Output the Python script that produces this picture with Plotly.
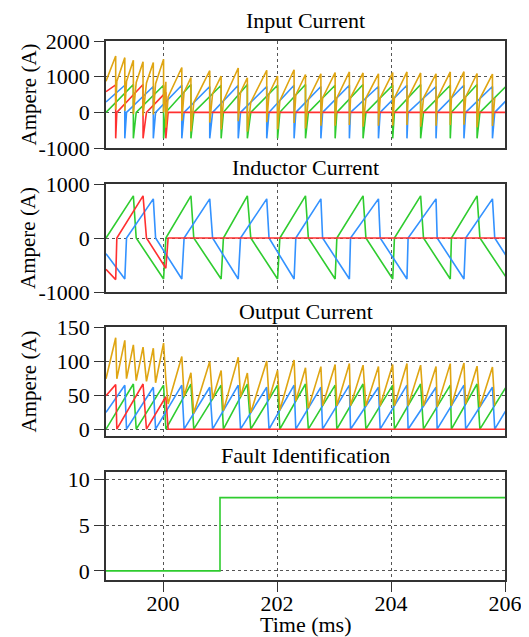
import plotly.graph_objects as go

# ---------------- data ----------------
# Inductor current vertices (time in ms, current in A)
t_green = [199.00, 199.48, 199.53, 200.01, 200.05, 200.49, 200.54, 201.02, 201.06,
           201.48, 201.54, 202.01, 202.05, 202.50, 202.55, 203.02, 203.05, 203.51,
           203.56, 204.03, 204.06, 204.52, 204.57, 205.04, 205.06, 205.51, 205.56, 206.04]
i_green = [0, 780, 0, -760, 0, 780, 0, -760, 0, 780, 0, -760, 0, 780, 0, -760, 0, 780,
           0, -760, 0, 780, 0, -760, 0, 780, 0, -760]

t_blue = [199.00, 199.33, 199.36, 199.83, 199.87, 200.33, 200.37, 200.82, 200.87,
          201.32, 201.36, 201.82, 201.86, 202.30, 202.33, 202.77, 202.80, 203.27,
          203.29, 203.78, 203.81, 204.28, 204.30, 204.79, 204.81, 205.28, 205.31,
          205.78, 205.82, 206.28]
i_blue = [-290, -760, 0, 725, 0, -760, 0, 725, 0, -760, 0, 725, 0, -760, 0, 725, 0,
          -760, 0, 725, 0, -760, 0, 725, 0, -760, 0, 725, 0, -760]

t_red = [199.00, 199.17, 199.19, 199.65, 199.71, 200.05, 200.09, 206.30]
i_red = [-580, -770, 0, 780, 0, -560, 0, 0]

# depth of the negative input-current spikes at each commutation (A)
input_spike = -730
# output current per ampere of inductor current (ramp top ~66 A for ~775 A)
output_ratio = 0.085

# Fault identification signal
t_fault = [199.0, 201.0, 201.0, 206.0]
fault_code = [0, 0, 8, 8]

x_ticks = [200, 202, 204, 206]
y1_ticks = [-1000, 0, 1000, 2000]
y2_ticks = [-1000, 0, 1000]
y3_ticks = [0, 50, 100, 150]
y4_ticks = [0, 5, 10]

GREEN = "#2fcc2f"
BLUE = "#3392ff"
RED = "#ff3030"
GOLD = "#dfa512"
FONT = "Liberation Serif, Times New Roman, serif"


# ---------------- build the panel traces from the read events ----------------
def input_trace(ts, vs):
    xs, ys = [], []
    n = len(ts)
    for k in range(n):
        xs.append(ts[k]); ys.append(abs(vs[k]))
        if vs[k] != 0 and k + 1 < n and vs[k + 1] == 0:
            xs.append(ts[k]); ys.append(input_spike)
    return xs, ys


def output_trace(ts, vs):
    return list(ts), [abs(v) * output_ratio for v in vs]


def lr(xs, ys, t):
    idx = [k for k, x in enumerate(xs) if abs(x - t) < 1e-9]
    if idx:
        return ys[idx[0]], ys[idx[-1]]
    for k in range(len(xs) - 1):
        if xs[k] < t < xs[k + 1]:
            v = ys[k] + (ys[k + 1] - ys[k]) * (t - xs[k]) / (xs[k + 1] - xs[k])
            return v, v
    return ys[-1], ys[-1]


def total(traces):
    times = sorted(set(round(t, 6) for xs, _ in traces for t in xs if 199.0 <= t <= 206.0))
    gx, gy = [], []
    for t in times:
        L = sum(lr(xs, ys, t)[0] for xs, ys in traces)
        R = sum(lr(xs, ys, t)[1] for xs, ys in traces)
        gx.append(t); gy.append(L)
        if abs(R - L) > 1e-9:
            gx.append(t); gy.append(R)
    return gx, gy


in_g = input_trace(t_green, i_green)
in_b = input_trace(t_blue, i_blue)
in_r = input_trace(t_red, i_red)
in_tot = total([in_g, in_b, in_r])

out_g = output_trace(t_green, i_green)
out_b = output_trace(t_blue, i_blue)
out_r = output_trace(t_red, i_red)
out_tot = total([out_g, out_b, out_r])

fig = go.Figure()


def add(xy, color, axis, width=1.6):
    fig.add_trace(go.Scatter(x=xy[0], y=xy[1], mode="lines",
                             line=dict(color=color, width=width),
                             xaxis="x" + axis, yaxis="y" + axis,
                             showlegend=False, hoverinfo="skip"))


# panel 1: input current
add(in_g, GREEN, "")
add(in_b, BLUE, "")
add(in_r, RED, "")
add(in_tot, GOLD, "")
# panel 2: inductor current
add((t_green, i_green), GREEN, "2")
add((t_blue, i_blue), BLUE, "2")
add((t_red, i_red), RED, "2")
# panel 3: output current
add(out_g, GREEN, "3")
add(out_b, BLUE, "3")
add(out_r, RED, "3")
add(out_tot, GOLD, "3")
# panel 4: fault identification
add((t_fault, fault_code), GREEN, "4")

# ---------------- layout ----------------
# target plot area in page pixels; the page body has an 8 px margin
OFF = 8
L_PX, R_PX, T_PX, B_PX = 106, 505, 41, 580
W, H = 529 - OFF, 637 - OFF


def ydom(top, bot):
    h = B_PX - T_PX
    return [(B_PX - bot) / h, (B_PX - top) / h]


def ypaper(py):
    return (B_PX - py) / (B_PX - T_PX)


def xpaper(px):
    return (px - L_PX) / (R_PX - L_PX)


def labels(vals):
    return [str(v) for v in vals]   # plain hyphen minus, as in the reference


axis_common = dict(showline=True, mirror=True, linecolor="#333333", linewidth=1.5,
                   showgrid=True, gridcolor="#555555", gridwidth=1, griddash="dot",
                   zeroline=False, automargin=False,
                   tickfont=dict(family=FONT, size=22, color="black"))

xax = dict(range=[199, 206], tickvals=x_ticks, ticktext=labels(x_ticks), **axis_common)
ytick = dict(ticks="outside", ticklen=10, tickcolor="#333333")
lay = dict(
    width=W, height=H,
    margin=dict(l=L_PX - OFF, r=OFF + W - R_PX, t=T_PX - OFF, b=OFF + H - B_PX),
    paper_bgcolor="white", plot_bgcolor="white",
    font=dict(family=FONT, size=22, color="black"),
    xaxis=dict(domain=[0, 1], anchor="y", showticklabels=False, ticks="", **xax),
    xaxis2=dict(domain=[0, 1], anchor="y2", matches="x", showticklabels=False, ticks="", **xax),
    xaxis3=dict(domain=[0, 1], anchor="y3", matches="x", showticklabels=False, ticks="", **xax),
    xaxis4=dict(domain=[0, 1], anchor="y4", matches="x", ticks="outside", ticklen=10,
                tickcolor="#333333", ticklabelstandoff=-7, **xax),
    yaxis=dict(domain=ydom(41, 148), anchor="x", range=[-1000, 2000],
               tickvals=y1_ticks, ticktext=labels(y1_ticks), **ytick, **axis_common),
    yaxis2=dict(domain=ydom(184, 292), anchor="x2", range=[-1000, 1000],
                tickvals=y2_ticks, ticktext=labels(y2_ticks), **ytick, **axis_common),
    yaxis3=dict(domain=ydom(327, 436), anchor="x3", range=[-10, 150],
                tickvals=y3_ticks, ticktext=labels(y3_ticks), **ytick, **axis_common),
    yaxis4=dict(domain=ydom(472, 580), anchor="x4", range=[-1, 10.8],
                tickvals=y4_ticks, ticktext=labels(y4_ticks), **ytick, **axis_common),
)
fig.update_layout(**lay)

titles = [("Input Current", 20), ("Inductor Current", 167),
          ("Output Current", 311), ("Fault Identification", 455)]
for txt, py in titles:
    fig.add_annotation(text=txt, x=0.5, y=ypaper(py), xref="paper", yref="paper",
                       xanchor="center", yanchor="middle", showarrow=False,
                       font=dict(family=FONT, size=22, color="black"))

for py in [(41 + 148) / 2, (184 + 292) / 2, (327 + 436) / 2]:
    fig.add_annotation(text="Ampere (A)", x=xpaper(28), y=ypaper(py), xref="paper", yref="paper",
                       xanchor="center", yanchor="middle", textangle=-90, showarrow=False,
                       font=dict(family=FONT, size=21, color="black"))

fig.add_annotation(text="Time (ms)", x=0.5, y=ypaper(624), xref="paper", yref="paper",
                   xanchor="center", yanchor="middle", showarrow=False,
                   font=dict(family=FONT, size=22, color="black"))

fig.write_html("out.html")
